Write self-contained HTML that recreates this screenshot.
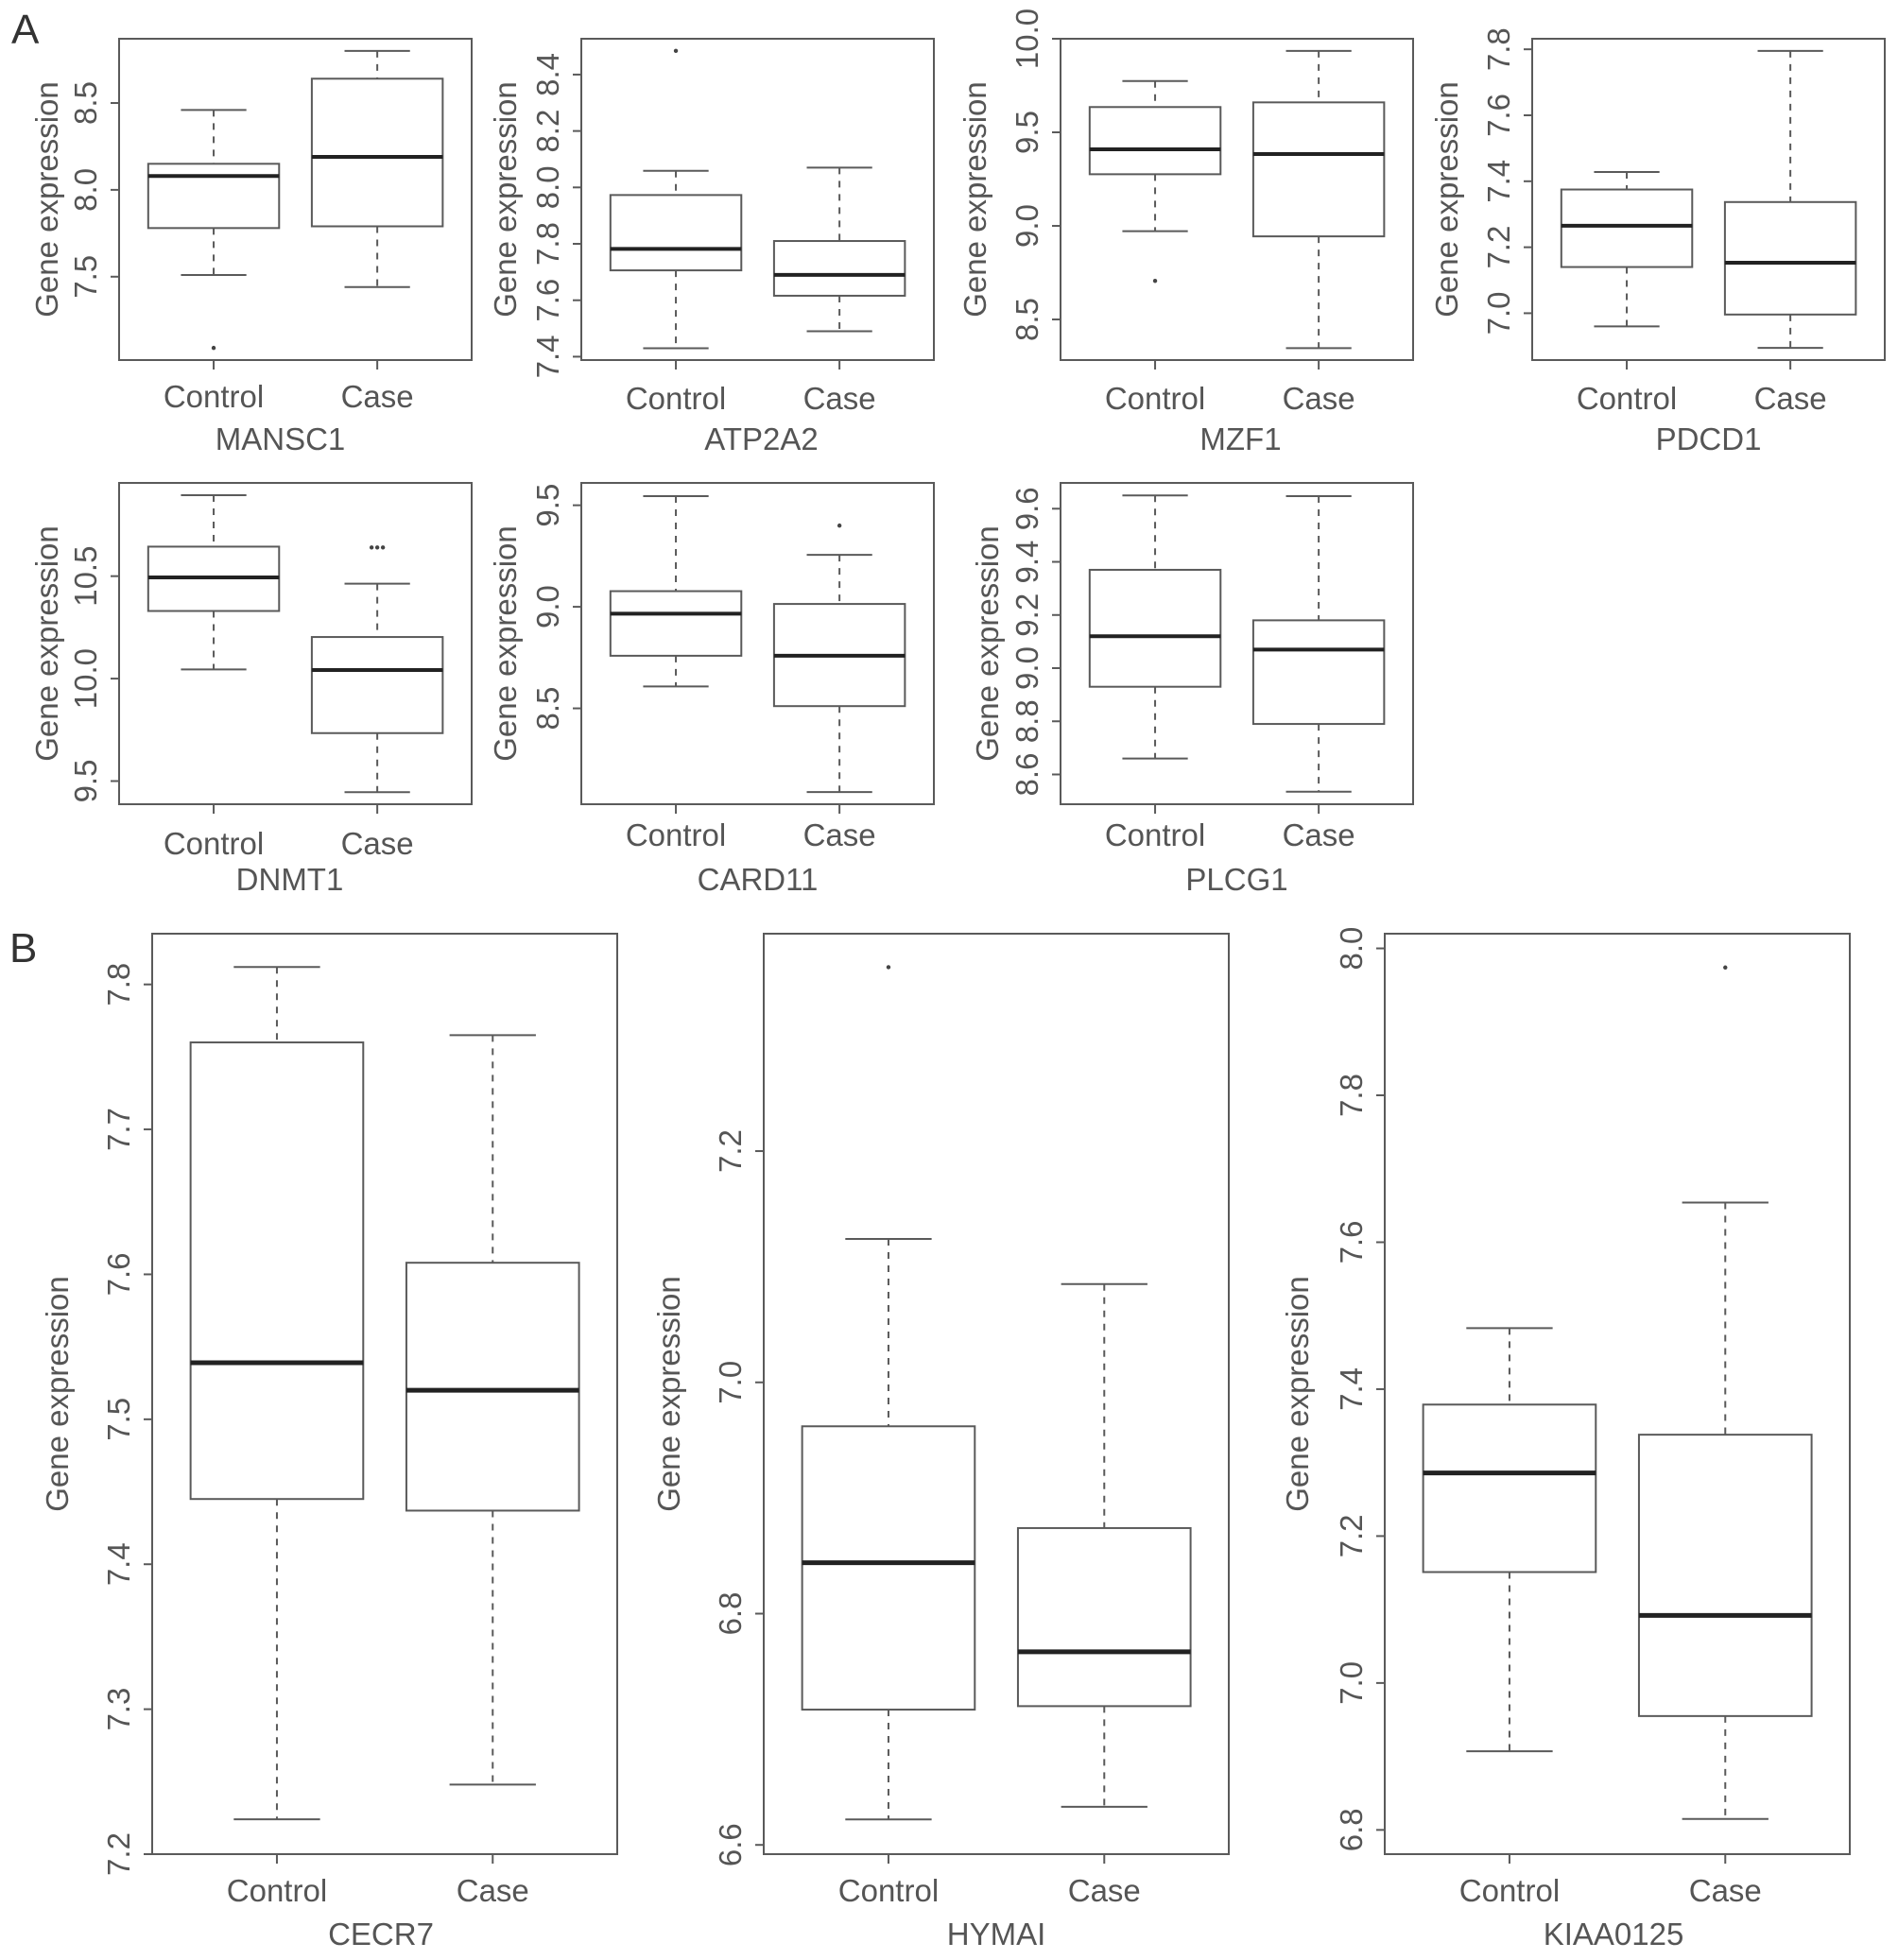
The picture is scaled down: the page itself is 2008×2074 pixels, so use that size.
<!DOCTYPE html>
<html><head><meta charset="utf-8"><style>
html,body{margin:0;padding:0;background:#fff;}
svg{display:block;font-family:"Liberation Sans",sans-serif;}
</style></head><body>
<svg id="fig" width="2008" height="2074" viewBox="0 0 2008 2074">
<text x="12" y="46" font-size="44" fill="#333">A</text>
<text x="10" y="1018" font-size="44" fill="#333">B</text>
</svg>
<script>
// ---- data ----
const genes = ["MANSC1","ATP2A2","MZF1","PDCD1","DNMT1","CARD11","PLCG1","CECR7","HYMAI","KIAA0125"];
const groups = ["Control","Case"];
// [lowWhisker, q1, median, q3, highWhisker]
const controlStats = [
  [7.51,7.78,8.08,8.15,8.46],
  [7.43,7.706,7.782,7.973,8.059],
  [8.972,9.276,9.409,9.635,9.774],
  [6.96,7.14,7.265,7.375,7.428],
  [10.045,10.33,10.494,10.644,10.895],
  [8.608,8.759,8.966,9.077,9.545],
  [8.66,8.93,9.12,9.37,9.65],
  [7.224,7.445,7.539,7.760,7.812],
  [6.622,6.717,6.844,6.962,7.124],
  [6.907,7.151,7.286,7.379,7.483]
];
const caseStats = [
  [7.44,7.79,8.19,8.64,8.80],
  [7.49,7.616,7.69,7.81,8.07],
  [8.347,8.944,9.384,9.66,9.935],
  [6.895,6.996,7.153,7.337,7.795],
  [9.446,9.734,10.042,10.203,10.463],
  [8.088,8.511,8.759,9.014,9.256],
  [8.535,8.79,9.07,9.18,9.647],
  [7.248,7.437,7.520,7.608,7.765],
  [6.633,6.72,6.767,6.874,7.085],
  [6.815,6.955,7.092,7.338,7.654]
];
const controlOutliers = [[7.09],[8.484],[8.706],[],[],[],[],[],[7.359],[]];
const caseOutliers = [[],[],[],[],[10.64,10.64,10.64],[9.40],[],[],[],[7.974]];
const yMin = [7.02,7.388,8.283,6.858,9.387,8.028,8.488,7.2,6.592,6.767];
const yMax = [8.87,8.527,10.0,7.832,10.955,9.61,9.697,7.835,7.388,8.02];
const tickLabels = [
  [7.5,8.0,8.5],
  [7.4,7.6,7.8,8.0,8.2,8.4],
  [8.5,9.0,9.5,10.0],
  [7.0,7.2,7.4,7.6,7.8],
  [9.5,10.0,10.5],
  [8.5,9.0,9.5],
  [8.6,8.8,9.0,9.2,9.4,9.6],
  [7.2,7.3,7.4,7.5,7.6,7.7,7.8],
  [6.6,6.8,7.0,7.2],
  [6.8,7.0,7.2,7.4,7.6,7.8,8.0]
];

// ---- layout (pixels) ----
const frames = [
  {x:126,y:41,w:373,h:340,yl:76,gl:84,gx:-16,tl:39},
  {x:615,y:41,w:373,h:340,yl:80,gl:84,gx:4,tl:41},
  {x:1122,y:41,w:373,h:340,yl:90,gl:84,gx:4,tl:41},
  {x:1621,y:41,w:373,h:340,yl:90,gl:84,gx:0,tl:41},
  {x:126,y:511,w:373,h:340,yl:76,gl:80,gx:-6,tl:42},
  {x:615,y:511,w:373,h:340,yl:80,gl:80,gx:0,tl:33},
  {x:1122,y:511,w:373,h:340,yl:77,gl:80,gx:0,tl:33},
  {x:161,y:988,w:492,h:974,yl:100,gl:85,gx:-4,tl:39},
  {x:808,y:988,w:492,h:974,yl:100,gl:85,gx:0,tl:39},
  {x:1465,y:988,w:492,h:974,yl:92,gl:85,gx:-4,tl:39}
];
const NS = "http://www.w3.org/2000/svg";
const svg = document.getElementById('fig');
function mk(tag, attrs, parent){
  const e = document.createElementNS(NS, tag);
  for (const k in attrs) e.setAttribute(k, attrs[k]);
  (parent||svg).appendChild(e);
  return e;
}
const LINE = "#5a5a5a", TXT = "#555", FS = 33;

genes.forEach((g, i) => {
  const f = frames[i];
  const grp = mk('g', {});
  
  
  const yS = v => f.y + f.h - (v - yMin[i]) / (yMax[i] - yMin[i]) * f.h;
  const xS = v => f.x + (v - 0.422) / 2.155 * f.w;
  const halfBox = 0.4 / 2.155 * f.w, halfCap = halfBox / 2;

  const fr = mk('rect', {x:f.x, y:f.y, width:f.w, height:f.h, fill:'none', stroke:LINE, 'stroke-width':2}, grp);
  
  

  tickLabels[i].forEach(t => {
    const y = yS(t);
    const tk = mk('line', {x1:f.x-9, x2:f.x, y1:y, y2:y, stroke:LINE, 'stroke-width':2}, grp);
    
    
    const tx = f.x - 24;
    const tl = mk('text', {x:tx, y:y, transform:`rotate(-90 ${tx} ${y})`, 'text-anchor':'middle', 'font-size':FS, fill:TXT}, grp);
    tl.textContent = t.toFixed(1);
    
    
  });
  const ylx = f.x - f.yl + 11, yly = f.y + f.h / 2;
  const yt = mk('text', {x:ylx, y:yly, transform:`rotate(-90 ${ylx} ${yly})`, 'text-anchor':'middle', 'font-size':FS, fill:TXT}, grp);
  yt.textContent = 'Gene expression';
  
  
  const gt = mk('text', {x:f.x + f.w/2 + f.gx, y:f.y + f.h + f.gl + 11, 'text-anchor':'middle', 'font-size':FS, fill:TXT}, grp);
  gt.textContent = g;
  
  

  [controlStats[i], caseStats[i]].forEach((s, k) => {
    const cx = xS(k + 1);
    const xt = mk('line', {x1:cx, x2:cx, y1:f.y+f.h, y2:f.y+f.h+10, stroke:LINE, 'stroke-width':2}, grp);
    
    
    const xl = mk('text', {x:cx, y:f.y + f.h + f.tl + 11, 'text-anchor':'middle', 'font-size':FS, fill:TXT}, grp);
    xl.textContent = groups[k];
    
    

    const bg = mk('g', {}, grp);
    
    
    mk('line', {x1:cx, x2:cx, y1:yS(s[4]), y2:yS(s[3]), stroke:LINE, 'stroke-width':2, 'stroke-dasharray':'7,7'}, bg);
    mk('line', {x1:cx, x2:cx, y1:yS(s[1]), y2:yS(s[0]), stroke:LINE, 'stroke-width':2, 'stroke-dasharray':'7,7'}, bg);
    mk('line', {x1:cx-halfCap, x2:cx+halfCap, y1:yS(s[4]), y2:yS(s[4]), stroke:LINE, 'stroke-width':2}, bg);
    mk('line', {x1:cx-halfCap, x2:cx+halfCap, y1:yS(s[0]), y2:yS(s[0]), stroke:LINE, 'stroke-width':2}, bg);
    mk('rect', {x:cx-halfBox, y:yS(s[3]), width:2*halfBox, height:yS(s[1])-yS(s[3]), fill:'#fff', stroke:LINE, 'stroke-width':2}, bg);
    mk('line', {x1:cx-halfBox, x2:cx+halfBox, y1:yS(s[2]), y2:yS(s[2]), stroke:'#222', 'stroke-width':i>=7?5:4}, bg);
    const outs = k === 0 ? controlOutliers[i] : caseOutliers[i];
    outs.forEach((o, j) => {
      const off = outs.length > 1 ? (j - (outs.length-1)/2) * 6 : 0;
      const pt = mk('circle', {cx:cx+off, cy:yS(o), r:2.2, fill:'#444'}, bg);
      
      
    });
  });
});
</script>
</body></html>
